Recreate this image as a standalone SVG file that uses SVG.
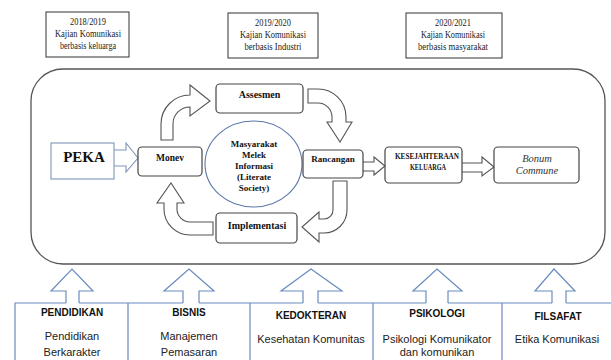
<svg xmlns="http://www.w3.org/2000/svg" width="611" height="360" viewBox="0 0 611 360">
<style>
.yr{fill:#fff;stroke:#333;stroke-width:1}
.yt{font-family:"Liberation Serif",serif;font-size:11px;fill:#222;text-anchor:middle}
.bx{fill:#fff;stroke:#444;stroke-width:1.2}
.bt{font-family:"Liberation Serif",serif;font-weight:bold;fill:#111;text-anchor:middle}
.ar{fill:#fff;stroke:#555;stroke-width:1.1;stroke-linejoin:miter}
.bl{fill:none;stroke:#6a8cbf;stroke-width:1.2}
.blf{fill:#fff;stroke:#6a8cbf;stroke-width:1.2}
.ht{font-family:"Liberation Sans",sans-serif;font-weight:bold;font-size:10px;fill:#111;text-anchor:middle}
.st{font-family:"Liberation Sans",sans-serif;font-size:11px;fill:#222;text-anchor:middle}
</style>
<rect x="0" y="0" width="611" height="360" fill="#fff"/>
<g id="year-2018">
<rect class="yr" x="46" y="12" width="83" height="45"/>
<text class="yt" x="88" y="25" textLength="36" lengthAdjust="spacingAndGlyphs">2018/2019</text>
<text class="yt" x="88" y="37" textLength="66" lengthAdjust="spacingAndGlyphs">Kajian Komunikasi</text>
<text class="yt" x="88" y="49" textLength="56" lengthAdjust="spacingAndGlyphs">berbasis keluarga</text>
</g>
<g id="year-2019">
<rect class="yr" x="228" y="13" width="90" height="45"/>
<text class="yt" x="273" y="26" textLength="36" lengthAdjust="spacingAndGlyphs">2019/2020</text>
<text class="yt" x="273" y="38" textLength="66" lengthAdjust="spacingAndGlyphs">Kajian Komunikasi</text>
<text class="yt" x="273" y="50" textLength="57" lengthAdjust="spacingAndGlyphs">berbasis Industri</text>
</g>
<g id="year-2020">
<rect class="yr" x="406" y="13" width="96" height="45"/>
<text class="yt" x="453" y="26" textLength="36" lengthAdjust="spacingAndGlyphs">2020/2021</text>
<text class="yt" x="453" y="38" textLength="64" lengthAdjust="spacingAndGlyphs">Kajian Komunikasi</text>
<text class="yt" x="453" y="50" textLength="70" lengthAdjust="spacingAndGlyphs">berbasis masyarakat</text>
</g>
<g id="frame">
<rect x="31" y="69" width="574" height="195" rx="32" ry="32" fill="#fff" stroke="#555" stroke-width="1.3"/>
</g>
<g id="connectors">
<path d="M114,150 L126,150 L126,143 L138,158 L126,172 L126,166 L114,166" fill="#fff" stroke="#7f95b8" stroke-width="1.1"/>
<path class="ar" d="M161,140 L161,124 A29,29 0 0 1 190,95 L190,85 L210,101 L190,116 L190,107 A17,17 0 0 0 173,124 L173,140 Z"/>
<path class="ar" d="M308,89 L318,89 A28,28 0 0 1 346,117 L346,122 L352,122 L340,142 L327,122 L332,122 L332,117 A14,14 0 0 0 318,103 L308,103 Z"/>
<path class="ar" d="M333,181 L347,181 L347,210 A23,23 0 0 1 324,233 L319,233 L319,242 L302,227 L319,212 L319,219 L324,219 A9,9 0 0 0 333,210 Z"/>
<path class="ar" d="M213,222 L190,222 A13,13 0 0 1 177,209 L177,203 L184,203 L171,183 L157,203 L164,203 L164,209 A26,26 0 0 0 190,235 L213,235 Z"/>
<path class="ar" d="M363,162 L374,162 L374,157 L385,166 L374,175 L374,171 L363,171"/>
<path class="ar" d="M462,163 L482,163 L482,157 L494,167 L482,176 L482,172 L462,172"/>
<path class="blf" d="M66,303 L66,291 L51,291 L72,269 L93,291 L79,291 L79,303"/>
<path class="blf" d="M183,303 L183,291 L164,291 L189,269 L214,291 L199,291 L199,303"/>
<path class="blf" d="M303,303 L303,291 L281,291 L311,269 L342,291 L318,291 L318,303"/>
<path class="blf" d="M426,303 L426,291 L413,291 L437,269 L462,291 L448,291 L448,303"/>
<path class="blf" d="M552,303 L552,291 L535,291 L554,269 L575,291 L566,291 L566,303"/>
</g>
<g id="peka">
<rect x="51" y="143" width="63" height="36" fill="#fff" stroke="#7f95b8" stroke-width="1.1"/>
<text class="bt" x="84" y="162" font-size="15">PEKA</text>
</g>
<g id="monev">
<rect class="bx" x="138" y="147" width="64" height="29" rx="4"/>
<text class="bt" x="170" y="161" font-size="9.5">Monev</text>
</g>
<g id="assesmen">
<rect class="bx" x="216" y="84" width="87" height="29" rx="4"/>
<text class="bt" x="259.5" y="98" font-size="10">Assesmen</text>
</g>
<g id="center">
<ellipse cx="253.5" cy="164" rx="48.5" ry="43" fill="#fff" stroke="#5a78a8" stroke-width="1.1"/>
<text class="bt" x="254" y="147" font-size="9">Masyarakat</text>
<text class="bt" x="254" y="158" font-size="9">Melek</text>
<text class="bt" x="254" y="169" font-size="9">Informasi</text>
<text class="bt" x="254" y="180" font-size="9">(Literate</text>
<text class="bt" x="254" y="191" font-size="9">Society)</text>
</g>
<g id="rancangan">
<rect class="bx" x="303" y="150" width="60" height="28" rx="4"/>
<text class="bt" x="333" y="162" font-size="9">Rancangan</text>
</g>
<g id="kesejahteraan">
<rect class="bx" x="385" y="147" width="77" height="36" rx="4"/>
<text class="bt" x="427" y="159" font-size="8" textLength="64" lengthAdjust="spacingAndGlyphs">KESEJAHTERAAN</text>
<text class="bt" x="428" y="170" font-size="8" textLength="36" lengthAdjust="spacingAndGlyphs">KELUARGA</text>
</g>
<g id="bonum">
<rect class="bx" x="494" y="147" width="85" height="36" rx="4"/>
<text x="537" y="162" font-family="Liberation Serif,serif" font-style="italic" font-size="10.5" fill="#333" text-anchor="middle">Bonum</text>
<text x="537" y="174" font-family="Liberation Serif,serif" font-style="italic" font-size="10.5" fill="#333" text-anchor="middle">Commune</text>
</g>
<g id="implementasi">
<rect class="bx" x="216" y="213" width="81" height="30" rx="4"/>
<text class="bt" x="257" y="229" font-size="10">Implementasi</text>
</g>
<g id="disciplines">
<path class="bl" d="M15,360 L15,303 L66,303 M79,303 L183,303 M199,303 L303,303 M318,303 L426,303 M448,303 L552,303 M566,303 L611,303 M128,303 L128,360 M250,303 L250,360 M373,303 L373,360 M502,303 L502,360"/>
</g>
<g id="pendidikan">
<text class="ht" x="72" y="316">PENDIDIKAN</text>
<text class="st" x="72" y="340">Pendidikan</text>
<text class="st" x="72" y="356">Berkarakter</text>
</g>
<g id="bisnis">
<text class="ht" x="189" y="316">BISNIS</text>
<text class="st" x="189" y="340">Manajemen</text>
<text class="st" x="189" y="356">Pemasaran</text>
</g>
<g id="kedokteran">
<text class="ht" x="311" y="319">KEDOKTERAN</text>
<text class="st" x="311" y="343">Kesehatan Komunitas</text>
</g>
<g id="psikologi">
<text class="ht" x="437" y="317">PSIKOLOGI</text>
<text class="st" x="437" y="343">Psikologi Komunikator</text>
<text class="st" x="437" y="356">dan komunikan</text>
</g>
<g id="filsafat">
<text class="ht" x="558" y="320">FILSAFAT</text>
<text class="st" x="557" y="343">Etika Komunikasi</text>
</g>
</svg>
